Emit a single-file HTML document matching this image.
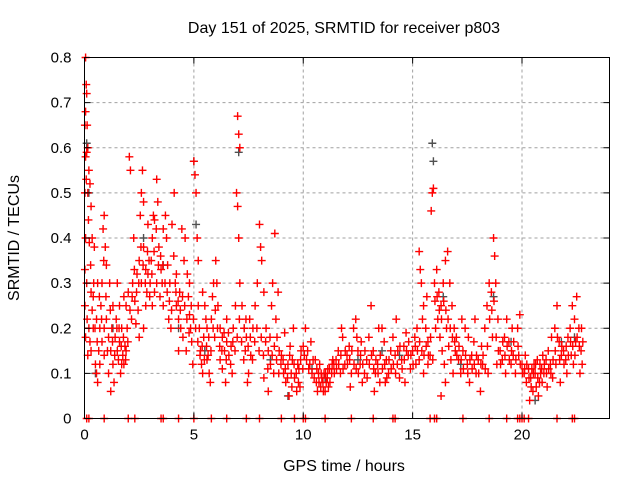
<!DOCTYPE html>
<html><head><meta charset="utf-8"><style>
body{margin:0;background:#fff;}
svg{display:block;font-family:"Liberation Sans",sans-serif;}
</style></head><body>
<svg id="chart" width="640" height="480" viewBox="0 0 640 480" xmlns="http://www.w3.org/2000/svg">
<rect width="640" height="480" fill="#fff"/>
<g id="grid"></g>
<g id="marks"></g>
<rect x="84.5" y="57.5" width="525" height="361" fill="none" stroke="#000" stroke-width="1"/>
<g id="axes"></g>
<text x="344" y="33" font-size="16" text-anchor="middle">Day 151 of 2025, SRMTID for receiver p803</text>
<text x="344" y="471" font-size="16" text-anchor="middle">GPS time / hours</text>
<text x="19" y="238" font-size="16" text-anchor="middle" transform="rotate(-90 19 238)">SRMTID / TECUs</text>
</svg>
<script>
const xTicks=[0,5,10,15,20];
const yTicks=[0,0.1,0.2,0.3,0.4,0.5,0.6,0.7,0.8];
const yTickLabels=["0","0.1","0.2","0.3","0.4","0.5","0.6","0.7","0.8"];
const redPts=[
[0.05,0.8],[0.08,0.74],[0.1,0.72],[0.05,0.68],[0.12,0.65],[0.02,0.65],[0.15,0.6],[0.1,0.59],[0.05,0.58],[0.2,0.55],[0.08,0.53],[0.25,0.52],[0.02,0.5],[0.15,0.5],[0.18,0.44],[0.05,0.4],[0.22,0.39],[0.28,0.34],[0.1,0.3],[0.3,0.28],[0.02,0.25],[0.12,0.22],[0.2,0.2],[0.05,0.18],[0.25,0.17],[0.3,0.15],[0.35,0.24],[0.4,0.27],[0.15,0.14],[0.4,0.2],[0.02,0.33],[0.35,0.4],[0.3,0.47],[0.45,0.38],
[0.5,0.12],[0.55,0.1],[0.6,0.08],[0.7,0.2],[0.75,0.25],[0.8,0.3],[0.85,0.42],[0.9,0.45],[0.95,0.38],[1.0,0.34],[0.65,0.15],[0.7,0.12],[0.9,0.2],[1.0,0.22],[1.1,0.18],[1.2,0.15],[1.25,0.2],[1.3,0.25],[1.15,0.3],[1.3,0.12],[1.4,0.18],[1.45,0.22],[1.35,0.08],[1.2,0.06],[1.1,0.1],[0.6,0.3],[0.55,0.22],[0.8,0.17],[0.9,0.14],
[1.5,0.15],[1.55,0.13],[1.6,0.17],[1.7,0.2],[1.75,0.14],[1.8,0.12],[1.85,0.16],[1.9,0.25],[1.95,0.2],[1.6,0.25],[1.65,0.1],[1.5,0.3],[1.8,0.27],[1.7,0.12],[1.9,0.15],[2.0,0.28],
[2.05,0.58],[2.1,0.55],[2.2,0.3],[2.3,0.26],[2.4,0.32],[2.5,0.35],[2.55,0.45],[2.6,0.5],[2.65,0.55],[2.7,0.48],[2.35,0.21],[2.45,0.24],[2.6,0.3],[2.7,0.38],[2.8,0.33],[2.85,0.28],[2.9,0.32],[2.95,0.35],[2.25,0.4],[2.15,0.22],[2.5,0.18],[2.7,0.2],[2.8,0.25],[2.9,0.43],
[3.0,0.3],[3.05,0.35],[3.1,0.4],[3.15,0.45],[3.2,0.44],[3.3,0.53],[3.35,0.48],[3.4,0.38],[3.5,0.33],[3.55,0.3],[3.6,0.42],[3.7,0.45],[3.75,0.4],[3.1,0.25],[3.2,0.28],[3.3,0.3],[3.45,0.27],[3.6,0.25],[3.8,0.34],[3.9,0.3],[3.85,0.22],[3.95,0.2],
[4.0,0.43],[4.1,0.5],[4.15,0.3],[4.2,0.25],[4.3,0.22],[4.35,0.28],[4.4,0.2],[4.5,0.18],[4.55,0.35],[4.6,0.4],[4.7,0.32],[4.75,0.27],[4.8,0.23],[4.85,0.2],[4.9,0.17],[4.95,0.12],[4.3,0.15],[4.2,0.32],[4.45,0.42],[4.65,0.15],[4.8,0.3],
[5.0,0.57],[5.05,0.54],[5.1,0.5],[5.15,0.4],[5.2,0.35],[5.25,0.2],[5.3,0.15],[5.35,0.12],[5.4,0.1],[5.45,0.18],[5.5,0.25],[5.55,0.22],[5.6,0.2],[5.65,0.14],[5.7,0.1],[5.75,0.08],[5.8,0.22],[5.85,0.27],[5.9,0.3],[5.95,0.18],[5.2,0.25],[5.4,0.28],[5.6,0.13],
[6.0,0.35],[6.05,0.3],[6.1,0.25],[6.2,0.2],[6.3,0.18],[6.4,0.15],[6.5,0.17],[6.6,0.14],[6.7,0.16],[6.8,0.2],[6.9,0.25],[6.5,0.22],[6.3,0.11],[6.2,0.13],[6.45,0.08],[6.75,0.1],
[7.0,0.67],[7.05,0.63],[7.1,0.6],[6.95,0.5],[7.0,0.47],[7.05,0.4],[7.1,0.3],[7.2,0.25],[7.3,0.2],[7.35,0.15],[7.4,0.18],[7.5,0.1],[7.6,0.14],[7.7,0.2],[7.8,0.25],[7.9,0.3],[7.45,0.08],[7.55,0.22],
[8.0,0.43],[8.05,0.38],[8.1,0.35],[8.2,0.28],[8.3,0.2],[8.4,0.15],[8.5,0.12],[8.55,0.25],[8.6,0.3],[8.7,0.41],[8.75,0.22],[8.8,0.18],[8.9,0.15],[8.2,0.09],[8.4,0.06],[8.65,0.1],[8.85,0.28],
[9.0,0.14],[9.1,0.1],[9.2,0.08],[9.3,0.12],[9.4,0.16],[9.5,0.13],[9.6,0.09],[9.7,0.06],[9.8,0.11],[9.9,0.15],[9.15,0.19],[9.35,0.05],[9.55,0.2],[9.75,0.12],[9.85,0.07],[9.45,0.1],
[10.0,0.16],[10.1,0.2],[10.2,0.15],[10.3,0.12],[10.4,0.1],[10.5,0.09],[10.6,0.08],[10.7,0.1],[10.8,0.07],[10.9,0.08],[11.0,0.06],[11.1,0.09],[11.2,0.11],[11.3,0.1],[11.4,0.12],[10.15,0.13],[10.35,0.17],[10.55,0.13],[10.75,0.12],[10.95,0.1],[11.15,0.07],[11.35,0.13],[10.85,0.09],[10.65,0.06],[11.05,0.08],
[11.5,0.13],[11.6,0.15],[11.7,0.1],[11.8,0.18],[11.9,0.12],[12.0,0.14],[12.1,0.16],[12.2,0.1],[12.3,0.2],[12.4,0.22],[12.5,0.15],[12.6,0.12],[12.7,0.08],[12.8,0.1],[12.9,0.13],[12.45,0.18],[12.15,0.07],[11.75,0.2],[12.65,0.17],
[13.0,0.18],[13.1,0.25],[13.2,0.15],[13.3,0.1],[13.4,0.12],[13.5,0.08],[13.6,0.2],[13.7,0.17],[13.8,0.13],[13.9,0.1],[14.0,0.15],[14.1,0.18],[14.2,0.14],[14.3,0.12],[14.4,0.09],[14.5,0.13],[14.6,0.16],[14.7,0.19],[14.8,0.14],[14.9,0.11],[13.25,0.06],[13.75,0.08],[14.25,0.22],[14.65,0.08],[13.45,0.2],
[15.0,0.15],[15.1,0.18],[15.2,0.2],[15.3,0.37],[15.35,0.33],[15.4,0.3],[15.5,0.25],[15.6,0.2],[15.7,0.17],[15.8,0.14],[15.9,0.5],[15.85,0.46],[15.95,0.51],[15.3,0.13],[15.5,0.1],[15.7,0.12],[15.15,0.12],[15.45,0.22],[15.65,0.27],
[16.0,0.3],[16.1,0.33],[16.2,0.28],[16.3,0.25],[16.4,0.3],[16.5,0.35],[16.6,0.37],[16.7,0.3],[16.8,0.25],[16.9,0.2],[16.05,0.2],[16.15,0.22],[16.25,0.18],[16.35,0.15],[16.45,0.12],[16.55,0.2],[16.65,0.16],[16.75,0.13],[16.85,0.1],[16.95,0.15],[16.5,0.08],[16.3,0.05],
[17.0,0.18],[17.1,0.13],[17.2,0.1],[17.3,0.15],[17.4,0.2],[17.5,0.12],[17.6,0.08],[17.7,0.14],[17.8,0.17],[17.9,0.1],[18.0,0.13],[18.1,0.06],[18.2,0.12],[18.3,0.2],[18.4,0.25],[18.5,0.3],[18.6,0.28],[18.7,0.4],[18.75,0.36],[18.8,0.3],[18.9,0.22],[17.25,0.22],[17.55,0.18],[17.85,0.22],[18.15,0.16],[18.45,0.1],[18.85,0.12],[18.65,0.18],
[19.0,0.15],[19.1,0.13],[19.2,0.18],[19.3,0.22],[19.4,0.17],[19.5,0.12],[19.6,0.14],[19.7,0.1],[19.8,0.2],[19.9,0.23],[19.25,0.1],[19.55,0.2],[19.85,0.14],
[20.0,0.12],[20.1,0.1],[20.2,0.08],[20.3,0.11],[20.4,0.09],[20.5,0.06],[20.6,0.1],[20.7,0.13],[20.8,0.08],[20.9,0.11],[21.0,0.1],[21.1,0.13],[21.2,0.15],[21.3,0.12],[21.4,0.09],[20.15,0.14],[20.35,0.04],[20.55,0.12],[20.75,0.05],[20.95,0.14],[21.15,0.07],[21.35,0.18],[20.45,0.11],[20.65,0.07],[20.85,0.1],
[21.5,0.2],[21.6,0.25],[21.7,0.17],[21.8,0.14],[21.9,0.15],[22.0,0.13],[22.1,0.18],[22.2,0.2],[22.3,0.25],[22.4,0.22],[22.5,0.27],[22.6,0.2],[22.7,0.15],[22.75,0.12],[21.55,0.12],[21.75,0.08],[22.05,0.1],[22.25,0.14],[22.45,0.17],[22.65,0.1],[22.35,0.12]
];
const redPts2=[
[0.42,0.3],[0.48,0.2],[0.58,0.17],[0.68,0.27],[0.78,0.22],[0.88,0.35],[0.98,0.27],[1.05,0.15],[1.18,0.24],[1.28,0.17],[1.38,0.14],[1.48,0.2],[1.58,0.2],[1.68,0.16],[1.78,0.18],[1.88,0.13],[1.98,0.17],
[2.08,0.24],[2.18,0.27],[2.28,0.33],[2.38,0.28],[2.48,0.3],[2.58,0.38],[2.68,0.34],[2.78,0.3],[2.88,0.37],[2.98,0.27],[3.08,0.32],[3.18,0.37],[3.28,0.42],[3.38,0.34],[3.48,0.36],[3.58,0.34],[3.68,0.3],[3.78,0.28],[3.88,0.26],[3.98,0.24],
[4.08,0.36],[4.18,0.28],[4.28,0.26],[4.38,0.24],[4.48,0.27],[4.58,0.25],[4.68,0.22],[4.78,0.19],[4.88,0.25],[4.98,0.22],[5.08,0.2],[5.18,0.17],[5.28,0.14],[5.38,0.16],[5.48,0.13],[5.58,0.16],[5.68,0.18],[5.78,0.15],[5.88,0.2],[5.98,0.24],
[6.08,0.2],[6.18,0.16],[6.28,0.15],[6.38,0.19],[6.48,0.13],[6.58,0.19],[6.68,0.12],[6.78,0.17],[6.88,0.15],[6.98,0.18],[7.08,0.22],[7.18,0.17],[7.28,0.13],[7.38,0.22],[7.48,0.16],[7.58,0.18],[7.68,0.13],[7.78,0.17],[7.88,0.2],[7.98,0.15],
[8.08,0.18],[8.18,0.14],[8.28,0.17],[8.38,0.11],[8.48,0.18],[8.58,0.14],[8.68,0.16],[8.78,0.13],[8.88,0.1],[8.98,0.12],[9.08,0.13],[9.18,0.11],[9.28,0.09],[9.38,0.14],[9.48,0.07],[9.58,0.12],[9.68,0.1],[9.78,0.08],[9.88,0.13],[9.98,0.11],
[10.05,0.14],[10.25,0.11],[10.45,0.13],[10.62,0.11],[10.72,0.08],[10.82,0.1],[10.92,0.06],[11.02,0.1],[11.12,0.11],[11.22,0.08],[11.32,0.12],[11.42,0.1],[11.52,0.11],[11.62,0.12],[11.72,0.14],[11.82,0.11],[11.92,0.15],[12.02,0.12],
[12.12,0.13],[12.22,0.15],[12.32,0.12],[12.42,0.11],[12.52,0.1],[12.62,0.14],[12.72,0.12],[12.82,0.15],[12.92,0.09],[13.02,0.12],[13.12,0.14],[13.22,0.11],[13.32,0.13],[13.42,0.1],[13.52,0.14],[13.62,0.11],[13.72,0.12],[13.82,0.09],[13.92,0.13],
[14.02,0.11],[14.12,0.12],[14.22,0.1],[14.32,0.15],[14.42,0.16],[14.52,0.11],[14.62,0.13],[14.72,0.15],[14.82,0.17],[14.92,0.14],[15.02,0.12],[15.12,0.16],[15.22,0.15],[15.32,0.17],[15.42,0.15],[15.52,0.14],[15.62,0.16],[15.72,0.14],[15.82,0.18],[15.92,0.13],
[16.02,0.26],[16.12,0.27],[16.22,0.24],[16.32,0.22],[16.42,0.26],[16.52,0.24],[16.62,0.22],[16.72,0.2],[16.82,0.18],[16.92,0.17],[17.02,0.14],[17.12,0.16],[17.22,0.13],[17.32,0.11],[17.42,0.14],[17.52,0.1],[17.62,0.13],[17.72,0.11],[17.82,0.12],[17.92,0.14],
[18.02,0.1],[18.12,0.12],[18.22,0.14],[18.32,0.11],[18.42,0.16],[18.52,0.22],[18.62,0.24],[18.72,0.26],[18.82,0.18],[18.92,0.15],[19.02,0.12],[19.12,0.17],[19.22,0.14],[19.32,0.16],[19.42,0.13],[19.52,0.15],[19.62,0.17],[19.72,0.13],[19.82,0.16],[19.92,0.12],
[20.02,0.1],[20.12,0.11],[20.22,0.12],[20.32,0.09],[20.42,0.07],[20.52,0.1],[20.62,0.12],[20.72,0.09],[20.82,0.12],[20.92,0.08],[21.02,0.12],[21.12,0.1],[21.22,0.11],[21.32,0.1],[21.42,0.13],[21.52,0.15],[21.62,0.18],[21.72,0.13],[21.82,0.16],[21.92,0.12],
[22.02,0.16],[22.12,0.14],[22.22,0.17],[22.32,0.16],[22.42,0.14],[22.52,0.18],[22.62,0.16],[22.72,0.2],[22.78,0.17]
];
const grayPts=[[0.1,0.61],[0.2,0.5],[0.5,0.1],[1.3,0.2],[2.7,0.4],[3.6,0.34],[4.3,0.2],[5.0,0.57],[5.1,0.43],[5.5,0.15],[7.05,0.59],[7.3,0.2],[8.5,0.13],[9.3,0.05],[10.4,0.11],[11.0,0.09],[12.5,0.13],[13.6,0.15],[14.4,0.14],[15.9,0.61],[15.95,0.57],[16.4,0.27],[17.2,0.12],[18.7,0.27],[19.5,0.17],[20.6,0.04],[21.8,0.17],[22.4,0.18]];
const zeroTimes=[0.1,0.2,0.9,2.0,2.3,3.5,3.6,4.3,5.0,5.8,6.5,7.4,8.0,9.0,9.6,10.0,10.1,11.0,12.2,13.2,14.1,14.2,15.8,16.0,16.1,17.3,18.5,19.3,19.8,19.9,20.0,20.1,20.3,21.6,22.3,22.4];

const L=84.5,R=609.5,T=57.5,B=418.5;
const X=t=>L+t/24*(R-L);
const Y=v=>B-v/0.8*(B-T);
const NS='http://www.w3.org/2000/svg';
function mk(tag,attrs,parent){const e=document.createElementNS(NS,tag);for(const k in attrs)e.setAttribute(k,attrs[k]);parent.appendChild(e);return e;}
const grid=document.getElementById('grid'),axes=document.getElementById('axes'),marks=document.getElementById('marks');
xTicks.forEach(t=>{
  if(t>0){const g=mk('line',{x1:X(t),x2:X(t),y1:T,y2:B,stroke:'#a0a0a0','stroke-dasharray':'3,3'},grid);
  
  }
  mk('line',{x1:X(t),x2:X(t),y1:B,y2:B-6,stroke:'#000'},axes);
  mk('line',{x1:X(t),x2:X(t),y1:T,y2:T+6,stroke:'#000'},axes);
  const tx=mk('text',{x:X(t),y:B+21,'font-size':15,'text-anchor':'middle'},axes);tx.textContent=t;
  
  
});
yTicks.forEach((v,i)=>{
  if(v>0&&v<0.8){const g=mk('line',{x1:L,x2:R,y1:Y(v),y2:Y(v),stroke:'#a0a0a0','stroke-dasharray':'3,3'},grid);
  
  }
  mk('line',{x1:L,x2:L+6,y1:Y(v),y2:Y(v),stroke:'#000'},axes);
  mk('line',{x1:R,x2:R-6,y1:Y(v),y2:Y(v),stroke:'#000'},axes);
  const tx=mk('text',{x:L-13,y:Y(v)+5,'font-size':15,'text-anchor':'end'},axes);tx.textContent=yTickLabels[i];
  
  
});
function plus(t,v,col,name){
  const x=X(t),y=Y(v);
  const p=mk('path',{d:`M${x-4},${y}H${x+4}M${x},${y-4}V${y+4}`,stroke:col,'stroke-width':1.4,fill:'none'},marks);
  
  
}
grayPts.forEach(p=>plus(p[0],p[1],'#505050','gray-point'));
redPts.forEach(p=>plus(p[0],p[1],'#ff0000','red-point'));
redPts2.forEach(p=>plus(p[0],p[1],'#ff0000','red-point'));
zeroTimes.forEach(t=>plus(t,0,'#ff0000','zero-point'));
</script>
</body></html>
